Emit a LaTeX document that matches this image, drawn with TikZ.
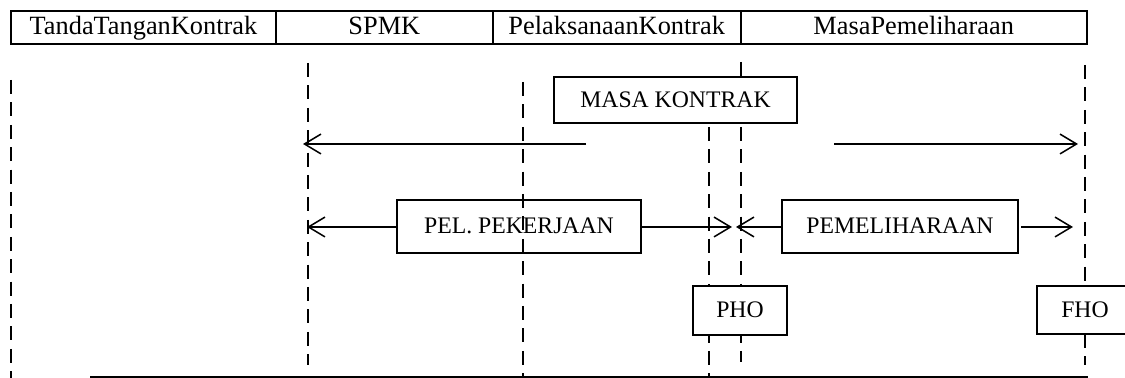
\documentclass[tikz,border=0pt]{standalone}
\usepackage{fontspec}
\setmainfont{Liberation Serif}
\usetikzlibrary{arrows.meta}
\begin{document}
\begin{tikzpicture}[x=0.016cm,y=-0.016cm,
  cell/.style={draw,line width=0.9pt,inner sep=0pt,outer sep=0pt,minimum height=0.528cm,anchor=west,text height=8.2pt,text depth=2.2pt,font=\fontsize{12}{14}\selectfont},
  labelbox/.style={draw,line width=0.7pt,inner sep=0pt,outer sep=0pt,text height=7.4pt,text depth=0.6pt,font=\fontsize{10.8}{13}\selectfont},
  dashline/.style={line width=0.7pt,dash pattern=on 6.4pt off 3.8pt},
  solidline/.style={line width=0.7pt},
  span/.style={line width=0.7pt,-{Straight Barb[length=7.5pt,width=9pt,line width=0.7pt]}},
  baseline/.style={line width=0.9pt}]
\useasboundingbox (0,0) rectangle (1125,378);
\clip (0,0) rectangle (1125,378);
% header table
\node[cell,minimum width=4.24cm] (c1) at (11,27.5) {TandaTanganKontrak};
\node[cell,minimum width=3.472cm] (c2) at (c1.east) {SPMK};
\node[cell,minimum width=3.968cm] (c3) at (c2.east) {PelaksanaanKontrak};
\node[cell,minimum width=5.536cm] (c4) at (c3.east) {MasaPemeliharaan};
% dashed guide lines
\coordinate (g0t) at (11,80);   \coordinate (g0b) at (11,378);
\coordinate (g1t) at (308,63);  \coordinate (g1b) at (308,365);
\coordinate (g2t) at (523,82);  \coordinate (g2b) at (523,378);
\coordinate (g3t) at (709,127); \coordinate (g3b) at (709,378);
\coordinate (g4a) at (741,62);  \coordinate (g4t) at (741,127); \coordinate (g4b) at (741,362);
\coordinate (g5t) at (1085,65); \coordinate (g5b) at (1085,365);
\draw[dashline] (g0t) -- (g0b);
\draw[dashline] (g1t) -- (g1b);
\draw[dashline] (g2t) -- (g2b);
\draw[dashline] (g3t) -- (g3b);
\draw[dashline] (g4t) -- (g4b);
\draw[dashline] (g5t) -- (g5b);
% boxes
\node[labelbox,minimum width=3.888cm,minimum height=0.736cm] (mk) at (675.5,100) {MASA KONTRAK};
\node[labelbox,minimum width=3.904cm,minimum height=0.848cm] (pel) at (519,226.5) {PEL. PEKERJAAN};
\node[labelbox,minimum width=3.776cm,minimum height=0.848cm] (pem) at (900,226.5) {PEMELIHARAAN};
\node[labelbox,fill=white,minimum width=1.504cm,minimum height=0.784cm] (pho) at (740,310.5) {PHO};
\node[labelbox,fill=white,minimum width=1.536cm,minimum height=0.768cm] (fho) at (1085,310) {FHO};
\draw[solidline] (g4a) -- (mk.north -| g4a);
% arrows
\coordinate (a1s) at (586,144); \coordinate (a1e) at (303,144);
\coordinate (a2s) at (834,144); \coordinate (a2e) at (1078,144);
\coordinate (a3e) at (307,227);
\coordinate (a4e) at (732,227);
\coordinate (a5e) at (736,227);
\coordinate (a6s) at (1021,227); \coordinate (a6e) at (1073,227);
\draw[span] (a1s) -- (a1e);
\draw[span] (a2s) -- (a2e);
\draw[span] (pel.west |- a3e) -- (a3e);
\draw[span] (pel.east |- a4e) -- (a4e);
\draw[span] (pem.west |- a5e) -- (a5e);
\draw[span] (a6s) -- (a6e);
% base line
\coordinate (bl) at (90,377); \coordinate (br) at (1088,377);
\draw[baseline] (bl) -- (br);
\end{tikzpicture}
\end{document}
